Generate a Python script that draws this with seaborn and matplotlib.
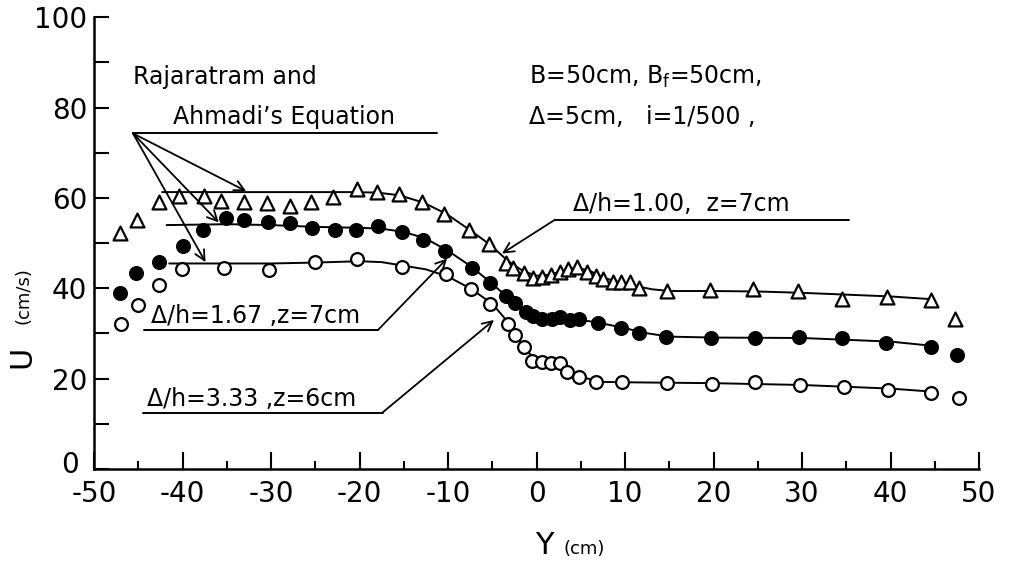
import matplotlib
matplotlib.use("Agg")
import matplotlib.pyplot as plt
import matplotlib.transforms as mtransforms
import seaborn as sns
import pandas as pd
import numpy as np

# ---- data ----
tri_y = [-47.1, -45.1, -42.7, -40.4, -37.6, -35.6, -33.0, -30.5, -27.9, -25.5, -23.0, -20.3, -18.0,
         -15.5, -12.9, -10.4, -7.6, -5.4, -3.5, -2.6, -1.4, -0.4, 0.6, 1.6, 2.6, 3.6, 4.6, 5.7,
         6.7, 7.5, 8.6, 9.6, 10.6, 11.6, 14.7, 19.6, 24.5, 29.5, 34.5, 39.6, 44.6, 47.3]
tri_u = [52.3, 55.2, 59.0, 60.4, 60.4, 59.4, 59.0, 58.8, 58.3, 59.0, 60.2, 61.9, 61.3,
         60.8, 59.1, 56.4, 52.9, 49.9, 45.6, 44.6, 43.3, 42.2, 42.4, 42.9, 43.6, 44.2, 44.8, 43.6,
         42.7, 42.0, 41.4, 41.4, 41.4, 40.0, 39.3, 39.6, 39.8, 39.4, 37.6, 38.1, 37.4, 33.1]

fil_y = [-47.1, -45.2, -42.6, -40.0, -37.7, -35.1, -33.0, -30.3, -27.9, -25.4, -22.8, -20.4, -17.9,
         -15.2, -12.8, -10.3, -7.3, -5.3, -3.5, -2.4, -1.2, -0.4, 0.6, 1.7, 2.7, 3.8, 4.8, 6.9,
         9.6, 11.6, 14.6, 19.7, 24.7, 29.7, 34.5, 39.5, 44.6, 47.5]
fil_u = [39.0, 43.3, 45.9, 49.3, 53.0, 55.5, 55.1, 54.6, 54.5, 53.4, 52.9, 53.0, 53.9,
         52.5, 50.7, 48.2, 44.5, 41.2, 38.3, 36.8, 34.8, 33.8, 33.3, 33.1, 33.6, 33.0, 33.1, 32.4,
         31.3, 30.2, 29.3, 29.1, 29.1, 29.3, 29.1, 28.0, 27.1, 25.2]

opn_y = [-46.9, -45.0, -42.6, -40.1, -35.3, -30.2, -25.0, -20.3, -15.2, -10.2, -7.4, -5.2, -3.2,
         -2.4, -1.4, -0.5, 0.6, 1.6, 2.6, 3.5, 4.8, 6.7, 9.7, 14.7, 19.8, 24.7, 29.8, 34.8,
         39.7, 44.6, 47.7]
opn_u = [32.0, 36.2, 40.7, 44.2, 44.5, 44.0, 45.9, 46.6, 44.8, 43.1, 39.9, 36.6, 32.2,
         29.6, 27.1, 24.0, 23.7, 23.5, 23.4, 21.5, 20.4, 19.3, 19.3, 19.0, 18.8, 19.3, 18.7, 18.1,
         17.5, 16.9, 15.8]

# fitted curves (Rajaratnam and Ahmadi's equation)
tri_fit_y = [-42.3, -21.0, -18.0, -15.5, -12.8, -10.2, -7.6, -5.2, -3.2, -1.5, 0.0, 1.5, 3.0,
             4.5, 6.0, 7.5, 9.0, 11.0, 13.0, 15.0, 20.0, 25.0, 30.0, 35.0, 40.0, 44.6]
tri_fit_u = [61.3, 61.3, 61.2, 60.6, 59.0, 56.5, 53.0, 49.6, 46.0, 43.8, 42.8, 43.0, 43.9,
             44.6, 43.9, 42.4, 41.5, 40.6, 39.8, 39.4, 39.4, 39.3, 39.0, 38.6, 38.2, 37.6]

fil_fit_y = [-41.8, -35.0, -30.0, -25.0, -20.0, -17.5, -15.0, -12.5, -10.0, -7.5, -5.0, -3.5,
             -2.0, -1.0, 0.0, 2.0, 5.0, 7.0, 10.0, 12.0, 15.0, 20.0, 30.0, 40.0, 44.6]
fil_fit_u = [54.0, 54.2, 54.0, 53.6, 53.4, 53.2, 52.5, 51.0, 48.3, 45.0, 41.0, 38.4,
             36.0, 34.6, 33.6, 33.2, 33.0, 32.4, 31.2, 30.2, 29.3, 29.1, 29.0, 28.2, 27.3]

opn_fit_y = [-41.5, -30.0, -25.0, -20.0, -17.5, -15.0, -12.5, -10.0, -7.5, -5.0, -3.0, -1.5,
             0.0, 1.5, 3.0, 5.0, 7.0, 10.0, 15.0, 20.0, 30.0, 40.0, 44.2]
opn_fit_u = [45.5, 45.5, 45.7, 46.0, 45.8, 45.0, 44.2, 42.6, 40.0, 36.6, 32.0, 27.0,
             24.0, 23.5, 22.5, 20.5, 19.3, 19.2, 19.1, 19.0, 18.6, 17.8, 17.2]

x_ticks = [-50, -40, -30, -20, -10, 0, 10, 20, 30, 40, 50]
y_ticks = [0, 20, 40, 60, 80, 100]

# ---- build tables ----
pts = pd.concat([
    pd.DataFrame({"Y": tri_y, "U": tri_u, "case": "tri"}),
    pd.DataFrame({"Y": fil_y, "U": fil_u, "case": "fil"}),
    pd.DataFrame({"Y": opn_y, "U": opn_u, "case": "opn"}),
], ignore_index=True)
fits = pd.concat([
    pd.DataFrame({"Y": tri_fit_y, "U": tri_fit_u, "case": "tri"}),
    pd.DataFrame({"Y": fil_fit_y, "U": fil_fit_u, "case": "fil"}),
    pd.DataFrame({"Y": opn_fit_y, "U": opn_fit_u, "case": "opn"}),
], ignore_index=True)

sns.set_theme(style="white")
plt.rcParams["font.family"] = ["DejaVu Sans"]
plt.rcParams["axes.unicode_minus"] = False
for k in ["text.color", "axes.labelcolor", "xtick.color", "ytick.color", "axes.edgecolor"]:
    plt.rcParams[k] = "black"

fig = plt.figure(figsize=(10.09, 5.64), dpi=100)
ax = fig.add_axes([94 / 1009, 1 - 469 / 564, 885 / 1009, (469 - 17.3) / 564])

# fitted curves
for case in ["tri", "fil", "opn"]:
    sns.lineplot(data=fits[fits.case == case], x="Y", y="U", sort=False, estimator=None,
                 color="black", lw=1.4, ax=ax, legend=False)

# measured points
sty = {"tri": dict(marker="^", facecolor="white", s=100),
       "fil": dict(marker="o", facecolor="black", s=85),
       "opn": dict(marker="o", facecolor="white", s=85)}
for case, st in sty.items():
    sns.scatterplot(data=pts[pts.case == case], x="Y", y="U", marker=st["marker"], s=st["s"],
                    color=st["facecolor"], edgecolor="black", linewidth=1.6, ax=ax,
                    legend=False, zorder=3)

ax.set_xlim(-50, 50)
ax.set_ylim(0, 100)
ax.set_xticks(x_ticks)
ax.set_xticks(np.arange(-45, 50, 10), minor=True)
ax.set_yticks(y_ticks)
ax.set_yticks(np.arange(10, 100, 20), minor=True)
ax.set_xticklabels([str(v) for v in x_ticks], fontsize=20)
ax.set_yticklabels([str(v) for v in y_ticks], fontsize=20)
ax.tick_params(axis="x", which="major", direction="in", length=12, width=1.5, pad=8, bottom=True)
ax.tick_params(axis="x", which="minor", direction="in", length=6, width=1.5, bottom=True)
ax.tick_params(axis="y", which="both", direction="in", length=11, width=1.5, pad=5, left=True)
for sp in ["top", "right"]:
    ax.spines[sp].set_visible(False)
for sp in ["left", "bottom"]:
    ax.spines[sp].set_linewidth(1.8)
    ax.spines[sp].set_color("black")
ax.set_xlabel("")
ax.set_ylabel("")

# nudge the y "0" label up/left like the reference so it clears "-50"
zero_lbl = ax.get_yticklabels()[0]
zero_lbl.set_transform(zero_lbl.get_transform() +
                       mtransforms.ScaledTranslation(-8 / 100, 7 / 100, fig.dpi_scale_trans))

# axis labels
fig.text(22 / 1009, 1 - 357 / 564, "U", rotation=90, fontsize=22, ha="center", va="center")
fig.text(23 / 1009, 1 - 296 / 564, "(cm/s)", rotation=90, fontsize=13, ha="center", va="center")
fig.text(544 / 1009, 1 - 545 / 564, "Y", fontsize=22, ha="center", va="center")
fig.text(584 / 1009, 1 - 549 / 564, "(cm)", fontsize=13, ha="center", va="center")

# annotation texts
fs = 17
ax.text(-45.6, 86.7, "Rajaratram and", fontsize=fs, va="center", ha="left")
ax.text(-41.1, 78.0, "Ahmadi’s Equation", fontsize=fs, va="center", ha="left")
ax.plot([-45.6, -11.2], [74.3, 74.3], color="black", lw=1.4)
for tip in [(-32.8, 61.5), (-35.9, 54.6), (-37.4, 45.8)]:
    ax.annotate("", xy=tip, xytext=(-45.6, 74.3),
                arrowprops=dict(arrowstyle="->", color="black", lw=1.3, mutation_scale=18,
                                shrinkA=0, shrinkB=0))

ax.text(-0.9, 86.7, r"B=50cm, B$_\mathregular{f}$=50cm,", fontsize=fs, va="center", ha="left")
ax.text(-0.9, 78.0, "Δ=5cm,   i=1/500 ,", fontsize=fs, va="center", ha="left")

# Δ/h = 1.00
ax.text(4.1, 58.6, "Δ/h=1.00,  z=7cm", fontsize=fs, va="center", ha="left")
ax.plot([2.1, 35.3], [55.2, 55.2], color="black", lw=1.4)
ax.annotate("", xy=(-3.9, 47.7), xytext=(2.1, 55.2),
            arrowprops=dict(arrowstyle="->", color="black", lw=1.3, mutation_scale=18,
                            shrinkA=0, shrinkB=0))

# Δ/h = 1.67
ax.text(-43.6, 33.8, "Δ/h=1.67 ,z=7cm", fontsize=fs, va="center", ha="left")
ax.plot([-44.4, -17.9], [30.8, 30.8], color="black", lw=1.4)
ax.annotate("", xy=(-10.1, 46.6), xytext=(-17.9, 30.8),
            arrowprops=dict(arrowstyle="->", color="black", lw=1.3, mutation_scale=18,
                            shrinkA=0, shrinkB=0))

# Δ/h = 3.33
ax.text(-44.0, 15.6, "Δ/h=3.33 ,z=6cm", fontsize=fs, va="center", ha="left")
ax.plot([-44.5, -17.4], [12.5, 12.5], color="black", lw=1.4)
ax.annotate("", xy=(-4.8, 33.0), xytext=(-17.4, 12.5),
            arrowprops=dict(arrowstyle="->", color="black", lw=1.3, mutation_scale=18,
                            shrinkA=0, shrinkB=0))

fig.savefig("out.png", dpi=100, facecolor="white")
